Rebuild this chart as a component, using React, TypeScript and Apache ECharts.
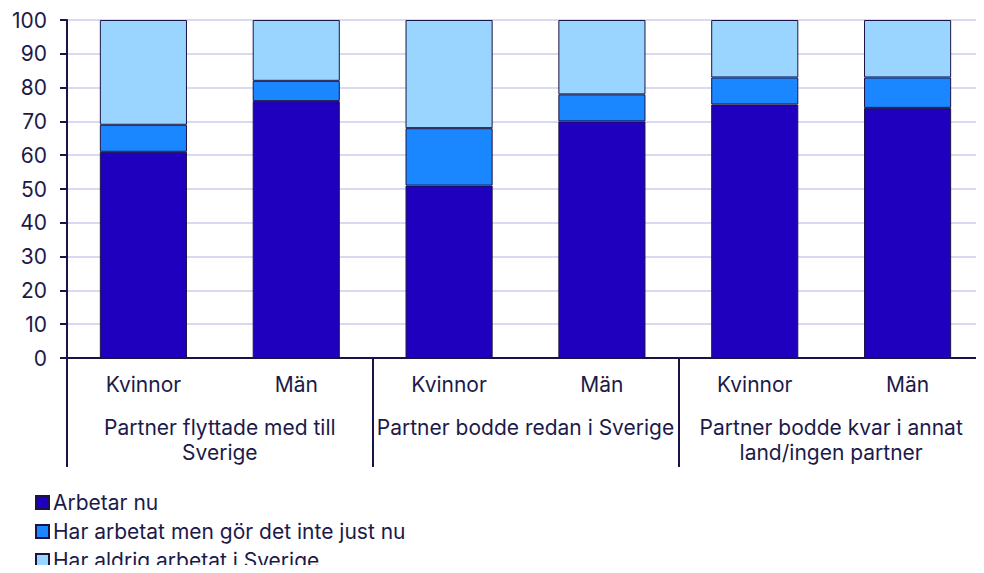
import React, { useEffect, useRef } from "react";
import * as echarts from "echarts";

const categories = ["Kvinnor", "Män", "Kvinnor", "Män", "Kvinnor", "Män"];
const groups = [
  "Partner flyttade med till\nSverige",
  "Partner bodde redan i Sverige",
  "Partner bodde kvar i annat\nland/ingen partner",
];
const arbetarNu = [61, 76, 51, 70, 75, 74];
const harArbetat = [8, 6, 17, 8, 8, 9];
const aldrig = [31, 18, 32, 22, 17, 17];
const seriesNames = [
  "Arbetar nu",
  "Har arbetat men gör det inte just nu",
  "Har aldrig arbetat i Sverige",
];

const TEXT = "#1c1a4a";
const BORDER = "#1a1446";
const FONT = "Inter";
const FS = 21;

export default function App() {
  const ref = useRef<HTMLDivElement>(null);
  useEffect(() => {
    if (!ref.current) return;
    const chart = echarts.init(ref.current, undefined, { renderer: "svg" });
    const mk = (name: string, data: number[], color: string) => ({
      name,
      type: "bar",
      stack: "total",
      data,
      barWidth: "57%",
      itemStyle: { color, borderColor: BORDER, borderWidth: 1 },
      emphasis: { disabled: true },
    });
    chart.setOption({
      animation: false,
      textStyle: { fontFamily: FONT },
      grid: { left: 67, top: 20, right: 0, bottom: 215, containLabel: false },
      legend: {
        orient: "vertical",
        left: 35,
        top: 492,
        height: 120,
        padding: 0,
        itemWidth: 13,
        itemHeight: 13,
        itemGap: 8,
        icon: "rect",
        textStyle: { fontSize: FS, lineHeight: 20, color: TEXT, fontFamily: FONT, padding: [0, 0, 0, -1] },
        data: seriesNames,
      },
      xAxis: [
        {
          type: "category",
          data: categories,
          axisLine: { show: true, lineStyle: { color: BORDER, width: 2 } },
          axisTick: { show: false },
          axisLabel: { fontSize: FS, color: TEXT, margin: 16, interval: 0, fontFamily: FONT },
        },
        {
          type: "category",
          data: groups,
          position: "bottom",
          axisLine: { show: false },
          axisTick: {
            show: true,
            length: 109,
            interval: 0,
            lineStyle: { color: BORDER, width: 2 },
          },
          axisLabel: {
            fontSize: FS,
            color: TEXT,
            margin: 57,
            interval: 0,
            lineHeight: 25,
            verticalAlign: "top",
            fontFamily: FONT,
          },
          splitLine: { show: false },
        },
      ],
      yAxis: {
        type: "value",
        min: 0,
        max: 100,
        interval: 10,
        axisLine: { show: true, lineStyle: { color: BORDER, width: 2 } },
        axisTick: { show: true, length: 7, lineStyle: { color: BORDER, width: 2 } },
        axisLabel: { fontSize: FS, color: TEXT, margin: 20, fontFamily: FONT },
        splitLine: { show: true, lineStyle: { color: "#d9d9f2", width: 2 } },
      },
      series: [
        mk(seriesNames[0], arbetarNu, "#1f00bf"),
        mk(seriesNames[1], harArbetat, "#1a86ff"),
        mk(seriesNames[2], aldrig, "#99d5ff"),
      ],
    });
    return () => chart.dispose();
  }, []);
  return <div ref={ref} style={{ width: 984, height: 573, margin: -8 }} />;
}
